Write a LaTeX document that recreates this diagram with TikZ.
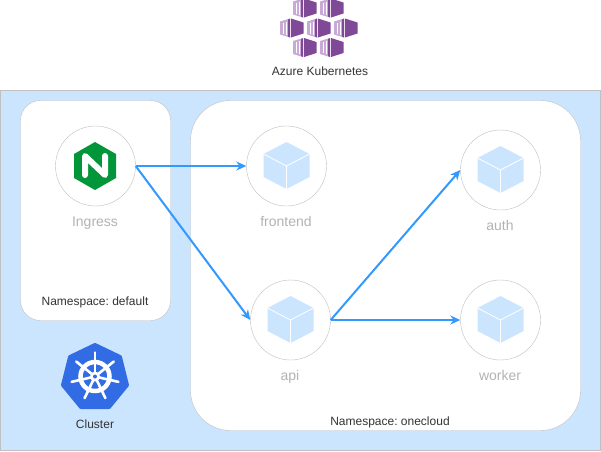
\documentclass[tikz,border=0pt]{standalone}
\usepackage{fontspec}
\setmainfont{Liberation Sans}
\frenchspacing
\usetikzlibrary{arrows.meta}
\definecolor{clusterblue}{HTML}{CCE5FF}
\definecolor{edgeblue}{HTML}{3399FF}
\definecolor{framegray}{HTML}{C0C0C0}
\definecolor{labelgray}{HTML}{B3B3B3}
\definecolor{nginxgreen}{HTML}{009639}
\definecolor{kubeblue}{HTML}{326CE5}
\definecolor{azuredark}{HTML}{804998}
\definecolor{azurelight}{HTML}{C9A9D6}
\tikzset{
  svc/.style={circle, draw=framegray, fill=white, minimum size=80pt, inner sep=0pt},
  svclabel/.style={anchor=base, text=labelgray, font=\fontsize{14}{14}\selectfont},
  caption/.style={anchor=base, text=black!80, font=\fontsize{12}{12}\selectfont},
  flow/.style={draw=edgeblue, line width=2pt, -{Stealth[length=10pt,width=9pt]}}
}
% one purple cell of the Azure mark
\newcommand{\azurecell}[2]{%
  \fill[azuredark] (#1,#2-9.5) -- (#1+12.5,#2-5.5) -- (#1+12.5,#2+5.5) -- (#1,#2+9.5) -- cycle;
  \fill[azurelight] (#1-11,#2-6.5) -- (#1-1,#2-9.5) -- (#1-1,#2+9.5) -- (#1-11,#2+6.5) -- cycle;
  \fill[azuredark] (#1-3,#2-8.5) -- (#1-1,#2-9.5) -- (#1-1,#2+9.5) -- (#1-3,#2+8.5) -- cycle;
  \fill[white] (#1-8.5,#2-5.5) rectangle (#1-7,#2+5.5);
  \fill[white] (#1-5.5,#2-6.5) rectangle (#1-4,#2+6.5);
}
% pale cube inside a service circle
\newcommand{\cubeicon}[2]{%
  \fill[clusterblue] (#1,#2-24) -- (#1+23,#2-12) -- (#1+23,#2+11) -- (#1,#2+23) -- (#1-23,#2+11) -- (#1-23,#2-12) -- cycle;
  \draw[white, line width=0.8pt] (#1-23,#2-12) -- (#1,#2) -- (#1+23,#2-12);
  \draw[white, line width=0.8pt] (#1,#2) -- (#1,#2+23);
}
\begin{document}
\begin{tikzpicture}[x=1pt, y=-1pt]
    \useasboundingbox (0,0) rectangle (601,451);

    \draw[draw=framegray, fill=clusterblue] (0.5,90.5) rectangle (600.5,450.5);
    \draw[draw=framegray, fill=white, rounded corners=20pt] (20.5,100.5) rectangle (170.5,320.5);
    \draw[draw=framegray, fill=white, rounded corners=40pt] (190.5,100.5) rectangle (580.5,430.5);

    \azurecell{304}{8}
    \azurecell{331}{8}
    \azurecell{291}{28}
    \azurecell{318}{28}
    \azurecell{345}{28}
    \azurecell{304}{47.5}
    \azurecell{331}{47.5}
    \node[caption] (azure) at (320,75) {Azure Kubernetes};

    \node[svc] (ingress) at (95.5,166) {};
    \node[svc] (frontend) at (286.5,166) {};
    \node[svc] (auth) at (500.5,170) {};
    \node[svc] (api) at (290.5,320) {};
    \node[svc] (worker) at (500.5,320) {};

    \fill[nginxgreen] (95,142) -- (116,154) -- (116,178) -- (95,190) -- (74,178) -- (74,154) -- cycle;
    \draw[white, line width=6pt, line cap=round, line join=round] (85,175) -- (85,156) -- (105,175) -- (105,156);

    \cubeicon{286.5}{166}
    \cubeicon{500.5}{170}
    \cubeicon{290.5}{320}
    \cubeicon{500.5}{320}

    \node[svclabel] (ingresslabel) at (95,226) {Ingress};
    \node[svclabel] (frontendlabel) at (286,226) {frontend};
    \node[svclabel] (authlabel) at (500,230) {auth};
    \node[svclabel] (apilabel) at (290,380) {api};
    \node[svclabel] (workerlabel) at (500,380) {worker};
    \node[caption] (nsdefault) at (95,305) {Namespace: default};
    \node[caption] (nsonecloud) at (390,425) {Namespace: onecloud};

    \fill[kubeblue, draw=kubeblue, line width=4pt, line join=round]
      (95,345) -- (120,357) -- (127,385) -- (109,407) -- (81,407) -- (63,385) -- (70,357) -- cycle;
    \draw[white, line width=4.5pt] (95,376.5) circle (14.5);
    \foreach \ang in {270,321.4,372.9,424.3,475.7,527.1,578.6} {
      \draw[white, line width=2.6pt, line cap=round] (95,376.5) -- ++(\ang:24);
    }
    \fill[white] (95,376.5) circle (5);
    \fill[kubeblue] (95,376.5) circle (2);
    \node[caption] (cluster) at (95,428) {Cluster};

    \draw[flow] (ingress.east) -- (frontend.west);
    \draw[flow] (ingress.east) -- (api.west);
    \draw[flow] (api.east) -- (auth.west);
    \draw[flow] (api.east) -- (worker.west);
\end{tikzpicture}
\end{document}
